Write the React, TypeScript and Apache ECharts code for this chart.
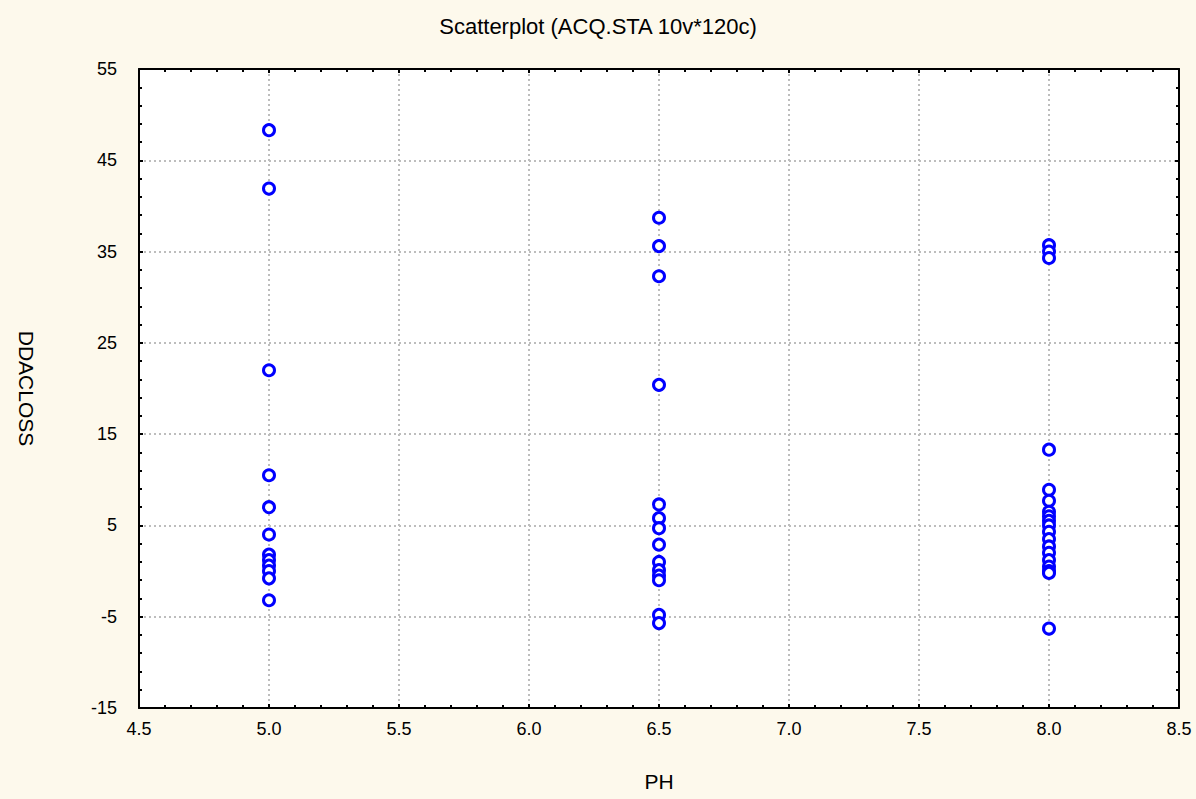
import React, { useEffect, useRef } from "react";
import * as echarts from "echarts";

const phLevels = [5.0, 6.5, 8.0];
const ph50Values = [48.3, 41.9, 22.0, 10.5, 7.0, 4.0, 1.8, 1.2, 0.6, 0.0, -0.8, -3.2];
const ph65Values = [38.7, 35.6, 32.3, 20.4, 7.3, 5.8, 4.7, 2.9, 1.0, 0.1, -0.5, -1.0, -4.8, -5.7];
const ph80Values = [35.7, 35.0, 34.3, 13.3, 8.9, 7.7, 6.5, 6.0, 5.5, 5.0, 4.3, 3.5, 2.7, 2.0, 1.2, 0.5, 0.0, -0.2, -6.3];
const xTicks = { min: 4.5, max: 8.5, interval: 0.5 };
const yTicks = { min: -15, max: 55, interval: 10 };

const FONT = "Arial";

export default function App() {
  const ref = useRef<HTMLDivElement>(null);
  useEffect(() => {
    document.body.style.margin = "0";
    const chart = echarts.init(ref.current!, undefined, { renderer: "svg" });
    const groups = [ph50Values, ph65Values, ph80Values];
    const data: number[][] = [];
    groups.forEach((vals, i) => vals.forEach((v) => data.push([phLevels[i], v])));

    const tickCommon = {
      axisLine: { show: true, onZero: false, lineStyle: { color: "#000", width: 2 } },
      axisTick: { show: true, inside: true, length: 4, lineStyle: { color: "#000", width: 2 } },
      minorTick: { show: true, splitNumber: 5, length: 3, lineStyle: { color: "#000", width: 2 } },
    };

    chart.setOption({
      animation: false,
      backgroundColor: "#FDF9EC",
      textStyle: { fontFamily: FONT },
      title: {
        text: "Scatterplot (ACQ.STA 10v*120c)",
        left: "center",
        top: 10,
        textStyle: { fontSize: 22, fontWeight: "normal", color: "#000", fontFamily: FONT },
      },
      grid: {
        left: 139,
        top: 69,
        right: 17,
        bottom: 91,
        show: true,
        backgroundColor: "#fff",
        borderColor: "#000",
        borderWidth: 0,
      },
      xAxis: [
        {
          type: "value",
          ...xTicks,
          position: "bottom",
          name: "PH",
          nameLocation: "middle",
          nameGap: 63,
          nameTextStyle: { fontSize: 21, color: "#000", fontFamily: FONT },
          ...tickCommon,
          axisLabel: {
            color: "#000",
            fontSize: 18,
            margin: 12,
            fontFamily: FONT,
            formatter: (v: number) => v.toFixed(1),
          },
          splitLine: { show: true, lineStyle: { color: "#bdbdbd", type: [2, 3], width: 2 } },
        },
        {
          type: "value",
          ...xTicks,
          position: "top",
          ...tickCommon,
          axisLabel: { show: false },
          splitLine: { show: false },
        },
      ],
      yAxis: [
        {
          type: "value",
          ...yTicks,
          position: "left",
          name: "DDACLOSS",
          nameLocation: "middle",
          nameGap: 102,
          nameRotate: -90,
          nameTextStyle: { fontSize: 21, color: "#000", fontFamily: FONT },
          ...tickCommon,
          axisLabel: {
            color: "#000",
            fontSize: 18,
            margin: 22,
            fontFamily: FONT,
            padding: [0, 0, 8, 0],
          },
          splitLine: { show: true, lineStyle: { color: "#bdbdbd", type: [2, 3], width: 2 } },
        },
        {
          type: "value",
          ...yTicks,
          position: "right",
          ...tickCommon,
          axisLabel: { show: false },
          splitLine: { show: false },
        },
      ],
      series: [
        {
          type: "scatter",
          data,
          symbol: "circle",
          symbolSize: 11,
          itemStyle: { color: "#fff", borderColor: "#0000FF", borderWidth: 3, opacity: 1 },
        },
      ],
    });
    return () => chart.dispose();
  }, []);
  return (
    <div
      ref={ref}
      style={{ position: "fixed", left: 0, top: 0, width: 1196, height: 799 }}
    />
  );
}
